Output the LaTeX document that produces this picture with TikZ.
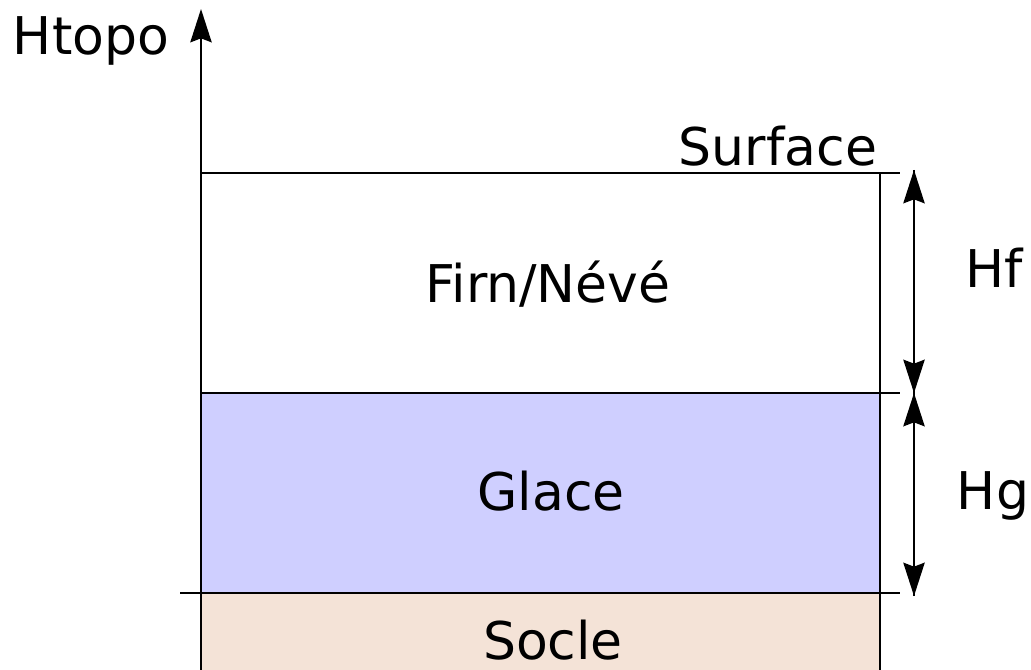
\documentclass[tikz,border=0pt]{standalone}
\usepackage{fontspec}
\setmainfont{DejaVu Sans}
\usetikzlibrary{arrows.meta, positioning}

\definecolor{glace}{RGB}{207,207,255}
\definecolor{socle}{RGB}{244,227,215}

\begin{document}
\begin{tikzpicture}[x=0.75pt, y=-0.75pt, line width=1.5pt,
  every node/.style={inner sep=0pt, font=\fontsize{39}{46}\selectfont},
  tip/.style={-{Stealth[length=25pt, width=16pt, inset=3pt]}}]
  \useasboundingbox (0,0) rectangle (1031,670);

  \fill[glace] (201,393) rectangle (880,593);
  \fill[socle] (201,593) rectangle (880,670);

  \coordinate (axis bottom) at (201,670);
  \coordinate (axis top)    at (201,9);
  \coordinate (surf left)   at (201,173);
  \coordinate (surf right)  at (900,173);
  \coordinate (wall top)    at (880,173);
  \coordinate (wall bottom) at (880,670);
  \coordinate (mid left)    at (201,393);
  \coordinate (mid right)   at (900,393);
  \coordinate (bed left)    at (180,593);
  \coordinate (bed right)   at (900,593);
  \coordinate (hf top)      at (914,170);
  \coordinate (h mid)       at (914,393);
  \coordinate (hg bottom)   at (914,596);

  \node[anchor=base]      (htopo)   at (91,55)   {Htopo};
  \node[anchor=base east] (surface) at (878,166) {Surface};
  \node[anchor=base]      (firn)    at (548,302) {Firn/Névé};
  \node[anchor=base]      (glace)   at (551,510) {Glace};
  \node[anchor=base]      (socle)   at (553,659) {Socle};
  \node[anchor=base]      (hf)      at (994,287) {Hf};
  \node[anchor=base]      (hg)      at (993,509) {Hg};

  \draw[tip] (axis bottom) -- (axis top);
  \draw (surf left) -- (surf right);
  \draw (wall top) -- (wall bottom);
  \draw (mid left) -- (mid right);
  \draw (bed left) -- (bed right);

  \draw[tip] (h mid) -- (hf top);
  \draw[tip] (hf top) -- (h mid);
  \draw[tip] (h mid) -- (hg bottom);
  \draw[tip] (hg bottom) -- (h mid);
\end{tikzpicture}
\end{document}
